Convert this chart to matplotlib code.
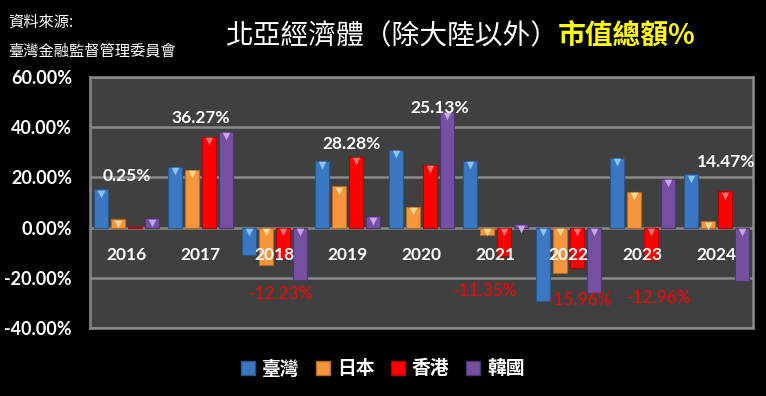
import matplotlib
matplotlib.use("Agg")
import matplotlib.pyplot as plt
import matplotlib.transforms as mtransforms
import numpy as np
from matplotlib.patches import Patch

years = ["2016", "2017", "2018", "2019", "2020", "2021", "2022", "2023", "2024"]
series_names = ["臺灣", "日本", "香港", "韓國"]
taiwan = [15.3, 24.2, -11.0, 26.6, 30.9, 26.6, -29.2, 27.8, 21.2]
japan = [3.3, 23.0, -15.0, 16.5, 8.2, -2.9, -18.2, 14.2, 2.5]
hongkong = [0.25, 36.27, -12.23, 28.28, 25.13, -11.35, -15.96, -12.96, 14.47]
korea = [3.7, 38.1, -20.8, 4.5, 46.2, 1.3, -26.2, 19.4, -21.4]
hk_labels = ["0.25%", "36.27%", "-12.23%", "28.28%", "25.13%", "-11.35%", "-15.96%", "-12.96%", "14.47%"]
yticks = [60, 40, 20, 0, -20, -40]

# label placement (style): x offset in category units, y in %
label_dx = [0.0, 0.0, 0.1, 0.05, 0.25, -0.13, 0.15, 0.22, 0.14]
label_y = [20.7, 43.8, -26.3, 33.5, 47.8, -25.1, -28.7, -27.9, 26.3]

colors = ["#3b78c4", "#f5963f", "#ff0000", "#7550a0"]
light = ["#8cc4f5", "#ffd890", "#ff7070", "#c8a5ee"]
edges = ["#28558c", "#b86a25", "#b00000", "#4e3470"]

CJK = ["Noto Sans CJK TC", "DejaVu Sans"]
NUM = ["Lato", "DejaVu Sans"]

fig = plt.figure(figsize=(7.66, 3.96), dpi=100, facecolor="black")
ax = fig.add_axes([90/766, 1-328/396, (753-90)/766, (328-77)/396])
ax.set_facecolor("#404040")

x = np.arange(len(years))
pitch = 0.23
width = 0.19
data = [taiwan, japan, hongkong, korea]
down = mtransforms.ScaledTranslation(0, -3.2/72, fig.dpi_scale_trans)
for k, vals in enumerate(data):
    xs = x + (k - 1.5) * pitch
    ax.bar(xs, vals, width=width, color=colors[k], edgecolor=edges[k], linewidth=0.8, zorder=3)
    sel = [i for i, v in enumerate(vals) if abs(v) > 1.0]
    tops = [max(vals[i], 0) for i in sel]
    ax.scatter(xs[sel], tops, marker="v", s=30, color=light[k], linewidths=0, zorder=4,
               transform=ax.transData + down)

ax.set_xlim(-0.5, len(years) - 0.5)
ax.set_ylim(-40, 60)
ax.set_yticks(yticks)
ax.set_yticklabels([f"{v:.2f}%" for v in yticks], color="white", fontsize=13,
                   fontweight="bold", family=NUM)
ax.tick_params(axis="y", length=0, pad=13)
ax.set_xticks([])
ax.grid(axis="y", color="#8a8a8a", linewidth=1.8, zorder=1)
for s in ax.spines.values():
    s.set_color("#8a8a8a")
    s.set_linewidth(1.8)

for i, yr in enumerate(years):
    ax.text(x[i], -11.1, yr, ha="center", va="center", color="white", fontsize=12.5,
            fontweight="bold", family=NUM, zorder=6)

for i, lab in enumerate(hk_labels):
    neg = hongkong[i] < 0
    ax.text(x[i] + label_dx[i], label_y[i], lab, ha="center", va="center",
            color="#ff0000" if neg else "white", fontsize=12.5,
            fontweight="normal" if neg else "bold", family=NUM, zorder=6)

fig.text(8/766, 1-22/396, "資料來源:", color="white", fontsize=11, family=CJK, va="center")
fig.text(8/766, 1-51/396, "臺灣金融監督管理委員會", color="white", fontsize=11, family=CJK, va="center")

t1 = fig.text(225/766, 1-36/396, "北亞經濟體（除大陸以外）", color="white", fontsize=20,
              family=CJK, va="center")
fig.canvas.draw()
bb = t1.get_window_extent()
fig.text(bb.x1/766, 1-36/396, "市值總額%", color="#ffff00", fontsize=20, fontweight="bold",
         family=CJK, va="center")

handles = [Patch(facecolor=colors[k], edgecolor=edges[k], label=series_names[k]) for k in range(4)]
leg = fig.legend(handles=handles, loc="center", bbox_to_anchor=(0.5, 1-369/396), ncol=4,
                 frameon=False, handlelength=0.7, handleheight=0.7, handletextpad=0.4,
                 columnspacing=0.9, prop={"family": CJK, "size": 13.5, "weight": "bold"})
for t in leg.get_texts():
    t.set_color("white")

fig.savefig("out.png", dpi=100, facecolor="black")
